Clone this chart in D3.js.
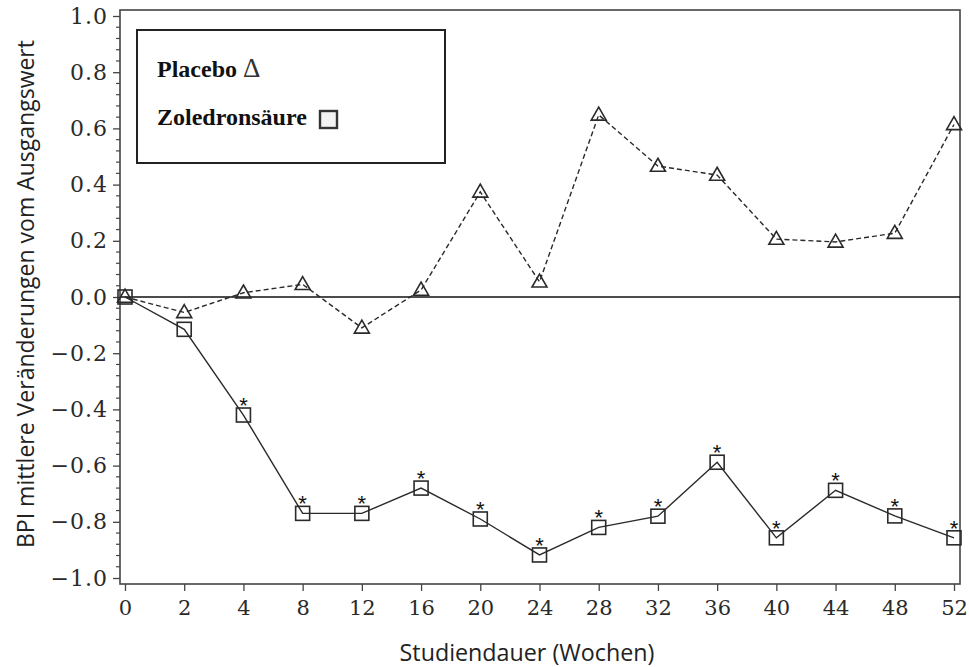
<!DOCTYPE html>
<html>
<head>
<meta charset="utf-8">
<script src="https://cdn.jsdelivr.net/npm/d3@7"></script>
<style>
  html, body { margin: 0; padding: 0; background: #fff; }
  svg { display: block; }
</style>
</head>
<body>
<svg id="chart" width="969" height="667"></svg>
<script>
// ---- data ----
const weeks = ["0","2","4","8","12","16","20","24","28","32","36","40","44","48","52"];
const placebo = [0.0, -0.055, 0.015, 0.045, -0.11, 0.025, 0.374, 0.054, 0.648, 0.466, 0.434, 0.206, 0.196, 0.227, 0.614];
const zoledron = [0.0, -0.115, -0.42, -0.77, -0.77, -0.68, -0.79, -0.918, -0.82, -0.78, -0.588, -0.857, -0.688, -0.779, -0.857];
const significant = [false, false, true, true, true, true, true, true, true, true, true, true, true, true, true];
const yTicks = [1.0, 0.8, 0.6, 0.4, 0.2, 0.0, -0.2, -0.4, -0.6, -0.8, -1.0];
const yTitle = "BPI mittlere Veränderungen vom Ausgangswert";
const xTitle = "Studiendauer (Wochen)";
const legendLabels = ["Placebo", "Zoledronsäure"];

// ---- layout ----
const svg = d3.select("#chart");
const frame = { left: 120, right: 960, top: 10, bottom: 584 };
const x = d3.scalePoint().domain(weeks).range([125, 954]);
const y = d3.scaleLinear().domain([-1, 1]).range([578, 16]);
const ink = "#2a2a2a";
const tickFont = "'DejaVu Serif', 'Liberation Serif', serif";

// frame
svg.append("rect")
  .attr("x", frame.left).attr("y", frame.top)
  .attr("width", frame.right - frame.left).attr("height", frame.bottom - frame.top)
  .attr("fill", "none").attr("stroke", "#444").attr("stroke-width", 1.6);

// y axis (major + minor ticks)
const yAxisG = svg.append("g").attr("transform", `translate(${frame.left},0)`);
const minorTicks = d3.range(-100, 101, 4).map(v => v / 100).filter(v => Math.abs(Math.round(v * 5) - v * 5) > 1e-6);
yAxisG.selectAll("line.minor").data(minorTicks).join("line")
  .attr("class", "minor")
  .attr("x1", -4).attr("x2", 0)
  .attr("y1", d => y(d)).attr("y2", d => y(d))
  .attr("stroke", "#444").attr("stroke-width", 1.2);
const yAxis = d3.axisLeft(y).tickValues(yTicks).tickSize(7).tickPadding(5)
  .tickFormat(d => d3.format(".1f")(d).replace("-", "\u2212"));
yAxisG.call(yAxis);
yAxisG.select(".domain").remove();
yAxisG.selectAll(".tick line").attr("stroke", "#444").attr("stroke-width", 1.3);
yAxisG.selectAll(".tick text")
  .style("font-family", tickFont).style("font-size", "22px")
  .style("letter-spacing", "1px")
  .attr("fill", ink);

// x axis
const xAxisG = svg.append("g").attr("transform", `translate(0,${frame.bottom})`);
xAxisG.call(d3.axisBottom(x).tickSize(7).tickPadding(9));
xAxisG.select(".domain").remove();
xAxisG.selectAll(".tick line").attr("stroke", "#444").attr("stroke-width", 1.3);
xAxisG.selectAll(".tick text")
  .style("font-family", tickFont).style("font-size", "21px")
  .attr("fill", ink);

// zero reference line
svg.append("line")
  .attr("x1", frame.left).attr("x2", frame.right)
  .attr("y1", y(0)).attr("y2", y(0))
  .attr("stroke", "#111").attr("stroke-width", 1.3);

// lines
const line = d3.line().x((d, i) => x(weeks[i])).y(d => y(d));
svg.append("path").datum(placebo)
  .attr("d", line).attr("fill", "none")
  .attr("stroke", ink).attr("stroke-width", 1.4)
  .attr("stroke-dasharray", "5,3");
svg.append("path").datum(zoledron)
  .attr("d", line).attr("fill", "none")
  .attr("stroke", ink).attr("stroke-width", 1.4);

// triangle markers
const tri = (cx, cy) => {
  const w = 7.5, h = 13;
  return `M${cx},${cy - h * 0.6}L${cx + w},${cy + h * 0.4}L${cx - w},${cy + h * 0.4}Z`;
};
svg.append("g").selectAll("path").data(placebo).join("path")
  .attr("d", (d, i) => tri(x(weeks[i]), y(d)))
  .attr("fill", "none").attr("stroke", ink).attr("stroke-width", 1.6);

// square markers
const sq = 14;
svg.append("g").selectAll("rect").data(zoledron).join("rect")
  .attr("x", (d, i) => x(weeks[i]) - sq / 2)
  .attr("y", d => y(d) - sq / 2)
  .attr("width", sq).attr("height", sq)
  .attr("fill", "none").attr("stroke", ink).attr("stroke-width", 1.6);

// significance asterisks
svg.append("g").selectAll("text").data(zoledron.map((v, i) => ({ v, i })).filter(d => significant[d.i])).join("text")
  .attr("x", d => x(weeks[d.i]))
  .attr("y", d => y(d.v) - 2)
  .attr("text-anchor", "middle")
  .style("font-family", "'Liberation Sans', sans-serif").style("font-size", "22px")
  .attr("fill", "#111")
  .text("*");

// legend
svg.append("rect")
  .attr("x", 137).attr("y", 30).attr("width", 308).attr("height", 133)
  .attr("fill", "#fff").attr("stroke", "#222").attr("stroke-width", 2);
const l1 = svg.append("text")
  .attr("x", 157).attr("y", 77)
  .attr("font-family", "Liberation Serif").attr("font-weight", "bold").attr("font-size", 24)
  .attr("fill", "#111");
l1.append("tspan").text(legendLabels[0] + " ");
l1.append("tspan").attr("font-weight", "normal").attr("font-size", 27).attr("fill", "#333").text("\u0394");
svg.append("text")
  .attr("x", 157).attr("y", 125)
  .attr("font-family", "Liberation Serif").attr("font-weight", "bold").attr("font-size", 24)
  .attr("fill", "#111")
  .text(legendLabels[1]);
svg.append("rect")
  .attr("x", 320).attr("y", 111).attr("width", 17).attr("height", 17)
  .attr("fill", "#f2f2f2").attr("stroke", "#333").attr("stroke-width", 2.4);

// axis titles, fitted to reference widths
function fit(sel, target) {
  const w = sel.node().getComputedTextLength();
  const fs = parseFloat(sel.attr("font-size"));
  sel.attr("font-size", fs * target / w);
}
const yt = svg.append("text")
  .attr("transform", "translate(34,294) rotate(-90)")
  .attr("text-anchor", "middle")
  .attr("font-family", "Open Sans").attr("font-size", 20)
  .attr("fill", "#222")
  .text(yTitle);
fit(yt, 508);
const xt = svg.append("text")
  .attr("x", 527).attr("y", 661)
  .attr("text-anchor", "middle")
  .attr("font-family", "Open Sans").attr("font-size", 20)
  .attr("fill", "#222")
  .text(xTitle);
fit(xt, 255);
</script>
</body>
</html>
